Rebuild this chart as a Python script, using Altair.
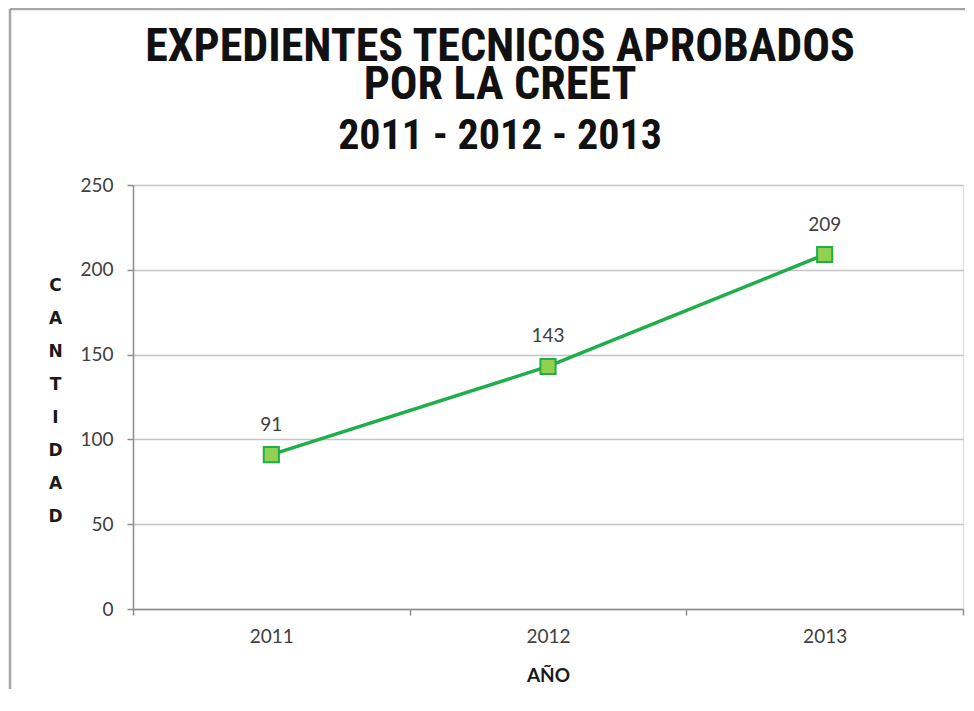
import altair as alt
import pandas as pd

years = ["2011", "2012", "2013"]
values = [91, 143, 209]
y_ticks = [0, 50, 100, 150, 200, 250]
title_lines = ["EXPEDIENTES TECNICOS APROBADOS", "POR LA CREET"]
subtitle_text = "2011 - 2012 - 2013"
y_title_letters = list("CANTIDAD")
x_title = "AÑO"

df = pd.DataFrame({"year": years, "value": values})

TITLE_FONT = "Liberation Sans Narrow, Roboto Condensed, DejaVu Sans Condensed, sans-serif"
LABEL_FONT = "Lato"
TEXT_COLOR = "#404040"
LINE_COLOR = "#1fae4a"
FILL_COLOR = "#92d050"
FRAME_COLOR = "#a6a6a6"

x_enc = alt.X(
    "year:N",
    sort=years,
    scale=alt.Scale(type="band", paddingInner=0, paddingOuter=0),
    axis=alt.Axis(
        title=x_title,
        labelAngle=0,
        tickBand="extent",
        ticks=True,
        tickSize=6,
        tickColor="#8c8c8c",
        tickWidth=1.5,
        domainColor="#8c8c8c",
        domainWidth=1.5,
        labelFont=LABEL_FONT,
        labelFontSize=19,
        labelColor=TEXT_COLOR,
        labelPadding=12,
        titleFont="Lato",
        titleFontSize=19,
        titleFontWeight="bold",
        titleColor="#1a1a1a",
        titleY=66,
        titleBaseline="middle",
        grid=False,
    ),
)

y_enc = alt.Y(
    "value:Q",
    scale=alt.Scale(domain=[0, 250], nice=False),
    axis=alt.Axis(
        values=y_ticks,
        title=y_title_letters,
        titleAngle=0,
        titleX=-78,
        titleY=100,
        titleAlign="center",
        titleBaseline="middle",
        titleLineHeight=33,
        titleFont="DejaVu Sans",
        titleFontSize=17,
        titleFontWeight="bold",
        titleColor="#1a1a1a",
        labelFont=LABEL_FONT,
        labelFontSize=19,
        labelColor=TEXT_COLOR,
        labelPadding=14,
        tickSize=6,
        tickColor="#8c8c8c",
        tickWidth=1.5,
        domainColor="#8c8c8c",
        domainWidth=1.5,
        grid=True,
        gridColor="#c4c4c4",
        gridWidth=1.5,
    ),
)

frame_df = pd.DataFrame({"f": [0]})
frame_top = alt.Chart(frame_df).mark_rule(color=FRAME_COLOR, strokeWidth=2.5).encode(
    x=alt.value(-123), x2=alt.value(2000), y=alt.value(-176)
)
frame_left = alt.Chart(frame_df).mark_rule(color=FRAME_COLOR, strokeWidth=2.5).encode(
    x=alt.value(-123), y=alt.value(-176), y2=alt.value(2000)
)

base = alt.Chart(df)

line = base.mark_line(color=LINE_COLOR, strokeWidth=3.5).encode(x=x_enc, y=y_enc)

points = base.mark_point(
    shape="square", filled=True, size=230, fill=FILL_COLOR, stroke=LINE_COLOR,
    strokeWidth=2, opacity=1
).encode(x=alt.X("year:N", sort=years), y="value:Q")

labels = base.mark_text(
    dy=-30, font=LABEL_FONT, fontSize=19, color=TEXT_COLOR, baseline="middle"
).encode(x=alt.X("year:N", sort=years), y="value:Q", text="value:Q")

chart = alt.layer(frame_top, frame_left, line, points, labels).properties(
    width=830,
    height=424,
    autosize=alt.AutoSizeParams(type="none"),
    padding={"left": 125, "top": 177, "right": 2, "bottom": 80},
    title=alt.TitleParams(
        text=title_lines,
        subtitle=subtitle_text,
        anchor="middle",
        frame="group",
        dx=-48,
        offset=-150,
        font=TITLE_FONT,
        fontSize=46,
        fontWeight="bold",
        lineHeight=38,
        color="#111111",
        subtitleFont=TITLE_FONT,
        subtitleFontSize=42,
        subtitleFontWeight="bold",
        subtitleColor="#111111",
        subtitlePadding=7,
    ),
).configure_view(stroke=None).configure(background="white")

chart.save("out.html", embed_options={"renderer": "svg", "actions": False})
